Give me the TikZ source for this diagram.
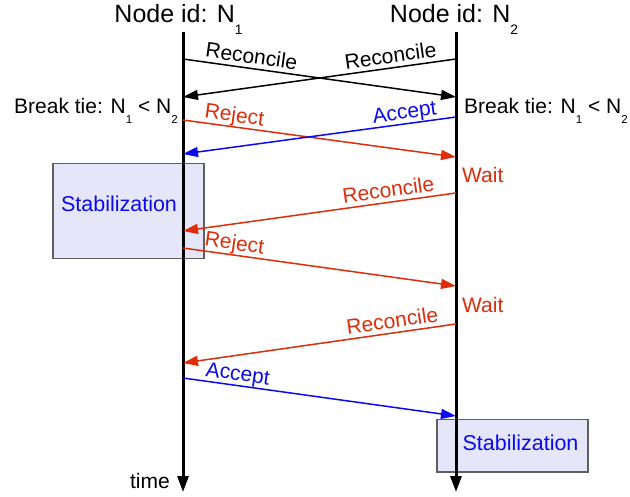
\documentclass[tikz,border=0pt]{standalone}
\usepackage{fontspec}
\setmainfont{Liberation Sans}
\usepackage{graphicx}
\usetikzlibrary{arrows.meta}

\definecolor{msgred}{RGB}{222,45,10}
\definecolor{msgblue}{RGB}{10,10,240}
\definecolor{stabfill}{RGB}{230,230,250}
\definecolor{stabedge}{RGB}{95,95,95}

% lowered small index, as in N_1
\newcommand\nsub[1]{\raisebox{-0.46em}{\scalebox{0.55}{#1}}}

\tikzset{
  lifeline/.style={line width=3pt, -{Triangle[length=16pt,width=11pt]}},
  msg/.style={line width=1.5pt, -{Triangle[length=15pt,width=10pt]}},
  txt/.style={font=\fontsize{21}{24}\selectfont, inner sep=0pt},
  head/.style={font=\fontsize{25}{28}\selectfont, inner sep=0pt, anchor=base},
  lbl/.style={txt, sloped, above=5pt, anchor=base},
  stabbox/.style={draw=stabedge, fill=stabfill, line width=1.5pt, anchor=north west},
  stabtext/.style={txt, text=msgblue, font=\fontsize{21.5}{24}\selectfont, anchor=base}
}

\begin{document}
\begin{tikzpicture}[x=1pt, y=-1pt]
\useasboundingbox (0,0) rectangle (630,497);

% stabilization phases (behind the lifelines)
\node[stabbox, minimum width=151pt, minimum height=95pt] (stab1) at (52,163) {};
\node[stabtext] (stab1t) at (119,212) {Stabilization};
\node[stabbox, minimum width=151pt, minimum height=52pt] (stab2) at (436,419) {};
\node[stabtext] (stab2t) at (520.5,450) {Stabilization};

% headers
\node[head] (h1) at (178.5,23) {Node id: N\nsub{1}};
\node[head] (h2) at (454,23) {Node id: N\nsub{2}};

% lifelines
\coordinate (top1) at (183,32);
\coordinate (bot1) at (183,492);
\coordinate (top2) at (456,32);
\coordinate (bot2) at (456,492);
\draw[lifeline] (top1) -- (bot1);
\draw[lifeline] (top2) -- (bot2);
\node[txt, anchor=base east] (time) at (170,488) {time};

% message end points on node N1
\coordinate (a1) at (183,59);
\coordinate (a2) at (183,97);
\coordinate (a3) at (183,120);
\coordinate (a4) at (183,154);
\coordinate (a5) at (183,231);
\coordinate (a6) at (183,248);
\coordinate (a7) at (183,363);
\coordinate (a8) at (183,378);
% message end points on node N2
\coordinate (b1) at (456,59);
\coordinate (b2) at (456,97);
\coordinate (b3) at (456,117);
\coordinate (b4) at (456,157);
\coordinate (b5) at (456,193);
\coordinate (b6) at (456,286);
\coordinate (b7) at (456,324);
\coordinate (b8) at (456,416);

% tie breaking notes
\node[txt, anchor=base east] (tie1) at (178,113.5) {Break tie: N\nsub{1} < N\nsub{2}};
\node[txt, anchor=base west] (tie2) at (464,113.5) {Break tie: N\nsub{1} < N\nsub{2}};

% simultaneous reconcile
\draw[msg] (a1) -- node[lbl, pos=0.245] {Reconcile} (b2);
\draw[msg] (b1) -- node[lbl, pos=0.234] {Reconcile} (a2);

% first round
\draw[msg, msgred] (a3) -- node[lbl, pos=0.183] {Reject} (b4);
\draw[msg, msgblue] (b3) -- node[lbl, pos=0.183] {Accept} (a4);
\node[txt, text=msgred, anchor=base west] (wait1) at (462,183) {Wait};
\draw[msg, msgred] (b5) -- node[lbl, pos=0.242] {Reconcile} (a5);

% second round
\draw[msg, msgred] (a6) -- node[lbl, pos=0.183] {Reject} (b6);
\node[txt, text=msgred, anchor=base west] (wait2) at (462,313) {Wait};
\draw[msg, msgred] (b7) -- node[lbl, pos=0.227] {Reconcile} (a7);
\draw[msg, msgblue] (a8) -- node[lbl, pos=0.195] {Accept} (b8);
\end{tikzpicture}
\end{document}
